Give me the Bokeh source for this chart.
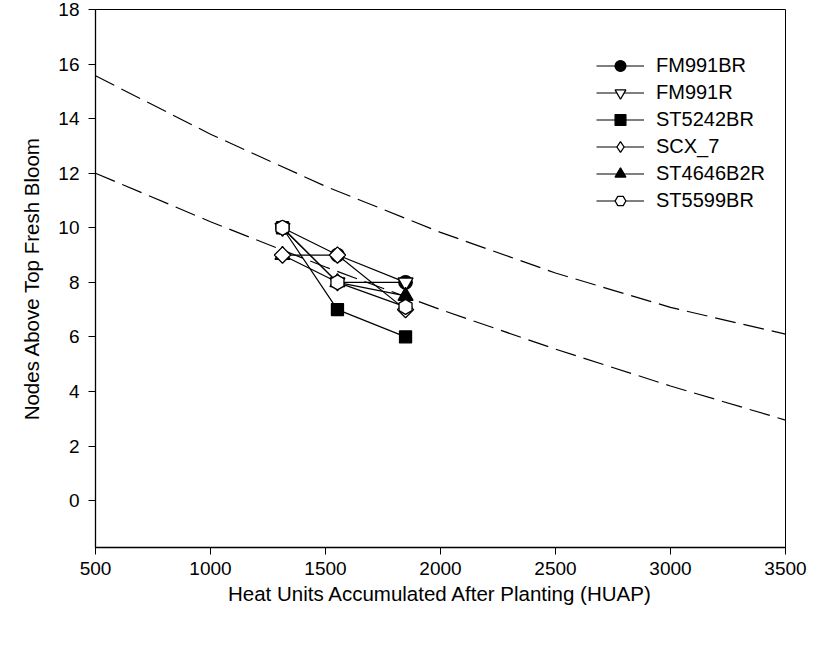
import numpy as np
from bokeh.plotting import figure
from bokeh.models import Range1d, Legend, LegendItem, FixedTicker
from bokeh.embed import file_html
from bokeh.resources import INLINE

# ---- data ----
huap = [1313, 1552, 1848]
FM991BR = [10, 9, 8]
FM991R = [10, 8, 8]
ST5242BR = [10, 7, 6]
ST4646B2R = [9, 8, 7.5]
SCX_7 = [9, 9, 7]
ST5599BR = [10, 8, 7.1]

curve_x = [500, 1000, 1500, 2000, 2500, 3000, 3500]
upper_y = [15.57, 13.43, 11.52, 9.83, 8.34, 7.08, 6.1]
lower_y = [12.0, 10.22, 8.56, 7.0, 5.55, 4.2, 2.95]

x_ticks = [500, 1000, 1500, 2000, 2500, 3000, 3500]
y_ticks = [0, 2, 4, 6, 8, 10, 12, 14, 16, 18]

FONT = "Liberation Sans"

p = figure(width=818, height=633, output_backend="svg", toolbar_location=None,
           x_range=Range1d(500, 3500), y_range=Range1d(-1.72, 18),
           min_border_left=95, min_border_right=33, min_border_top=9, min_border_bottom=86)
p.xgrid.visible = False
p.ygrid.visible = False
p.outline_line_color = "black"
p.outline_line_width = 1
p.background_fill_color = "white"
p.border_fill_color = "white"

for ax in (p.xaxis[0], p.yaxis[0]):
    ax.axis_line_color = "black"
    ax.axis_line_width = 1.3
    ax.major_tick_line_color = "black"
    ax.major_tick_line_width = 1
    ax.major_tick_out = 7
    ax.major_tick_in = 0
    ax.minor_tick_line_color = None
    ax.major_label_text_font = FONT
    ax.major_label_text_font_size = "19px"
    ax.major_label_text_color = "black"
    ax.axis_label_text_font = FONT
    ax.axis_label_text_font_size = "20.5px"
    ax.axis_label_text_font_style = "normal"
    ax.axis_label_text_color = "black"

p.xaxis[0].ticker = FixedTicker(ticks=x_ticks)
p.yaxis[0].ticker = FixedTicker(ticks=y_ticks)
p.xaxis[0].axis_label = "Heat Units Accumulated After Planting (HUAP)"
p.yaxis[0].axis_label = "Nodes Above Top Fresh Bloom"
p.xaxis[0].major_label_standoff = 7
p.yaxis[0].major_label_standoff = 9
p.xaxis[0].axis_label_standoff = 4
p.yaxis[0].axis_label_standoff = 12

# dashed reference curves
p.line(curve_x, upper_y, line_color="black", line_width=1.2, line_dash="21 8")
p.line(curve_x, lower_y, line_color="black", line_width=1.2, line_dash="21 8")

# (name, values, plot marker, fill, angle, size, legend marker)
series = [
    ("FM991BR", FM991BR, "circle", "black", 0, 13.5, None),
    ("FM991R", FM991R, "inverted_triangle", "white", 0, 15, None),
    ("ST5242BR", ST5242BR, "square", "black", 0, 12, None),
    ("ST4646B2R", ST4646B2R, "triangle", "black", 0, 15, None),
    ("SCX_7", SCX_7, "square", "white", np.pi / 4, 11.5, "diamond"),
    ("ST5599BR", ST5599BR, "hex", "white", np.pi / 2, 15, None),
]
items = {}
for name, ys, marker, fill, ang, sz, leg_marker in series:
    lr = p.line(huap, ys, line_color="black", line_width=1.2)
    sr = p.scatter(huap, ys, marker=marker, size=sz, angle=ang,
                   fill_color=fill, line_color="black", line_width=1.3)
    if leg_marker is not None:
        # legend-only glyph (drawn with zero size in the plot)
        gr = p.scatter(huap, ys, marker=leg_marker, size=0,
                       fill_color=fill, line_color="black", line_width=1.3)
        items[name] = LegendItem(label=name, renderers=[lr, gr])
    else:
        items[name] = LegendItem(label=name, renderers=[lr, sr])

order = ["FM991BR", "FM991R", "ST5242BR", "SCX_7", "ST4646B2R", "ST5599BR"]
legend = Legend(items=[items[n] for n in order], location=(501, 333),
                glyph_width=48, glyph_height=27, label_height=20, spacing=0,
                label_standoff=12, padding=0, margin=0,
                border_line_color=None, background_fill_alpha=0,
                label_text_font=FONT, label_text_font_size="20px",
                label_text_color="black")
p.add_layout(legend, "center")

open("out.html", "w").write(file_html(p, INLINE))
